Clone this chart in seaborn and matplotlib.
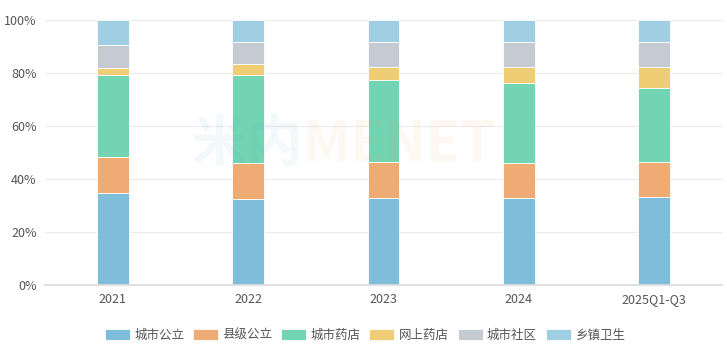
import numpy as np
import pandas as pd
import matplotlib.pyplot as plt
import seaborn as sns

# 数据 (百分比, 从图上估读)
years = ['2021', '2022', '2023', '2024', '2025Q1-Q3']
series_names = ['城市公立', '县级公立', '城市药店', '网上药店', '城市社区', '乡镇卫生']
city_public = [34.7, 32.6, 32.9, 32.9, 33.1]
county_public = [13.7, 13.6, 13.6, 13.0, 13.2]
city_pharmacy = [30.7, 33.0, 31.0, 30.4, 28.2]
online_pharmacy = [2.9, 4.2, 4.6, 5.8, 7.8]
city_community = [8.6, 8.2, 9.6, 9.6, 9.5]
township = [9.4, 8.4, 8.3, 8.3, 8.2]
colors = ['#7ebedb', '#eeab73', '#73d4b4', '#efcd74', '#c6cbd3', '#a0cfe3']

values = [city_public, county_public, city_pharmacy, online_pharmacy, city_community, township]

sns.set_theme(style='white')
plt.rcParams['font.family'] = ['Noto Sans CJK SC', 'DejaVu Sans']

fig = plt.figure(figsize=(7.27, 3.54), dpi=100)
ax = fig.add_axes([45 / 727, 69 / 354, 677 / 727, 265 / 354])

bottom = np.zeros(len(years))
for name, vals, col in zip(series_names, values, colors):
    df = pd.DataFrame({'year': years, 'share': vals})
    sns.barplot(data=df, x='year', y='share', color=col, bottom=bottom,
                width=0.235, ax=ax, label=name, edgecolor='white',
                linewidth=0.6, saturation=1)
    bottom += np.array(vals)

ax.set_ylim(0, 100)
ax.set_xlim(-0.5, len(years) - 0.5)
ax.set_yticks(range(0, 101, 20))
ax.set_yticklabels([f'{v}%' for v in range(0, 101, 20)])
ax.yaxis.grid(True, color='#ebebeb', linewidth=0.8)
ax.set_axisbelow(True)
for s in ['top', 'right', 'left']:
    ax.spines[s].set_visible(False)
ax.spines['bottom'].set_color('#dcdcdc')
ax.tick_params(axis='both', length=0, labelsize=9, colors='#555555', pad=6)
ax.set_xlabel('')
ax.set_ylabel('')

# 水印
fig.text(0.417, 0.59, '米内', fontsize=40, color='#3a9fb5', alpha=0.06,
         ha='right', va='center', fontweight='bold')
fig.text(0.417, 0.59, 'MENET', fontsize=40, color='#f08a3c', alpha=0.06,
         ha='left', va='center', fontweight='bold')

handles, labels = ax.get_legend_handles_labels()
if ax.get_legend() is not None:
    ax.get_legend().remove()
leg = fig.legend(handles, labels, loc='center', bbox_to_anchor=(365 / 727, 0.054),
                 ncol=6, frameon=False, fontsize=9, handlelength=2.0,
                 handleheight=1.0, columnspacing=0.7, handletextpad=0.35)
for t in leg.get_texts():
    t.set_color('#555555')

fig.savefig('out.png', dpi=100)
